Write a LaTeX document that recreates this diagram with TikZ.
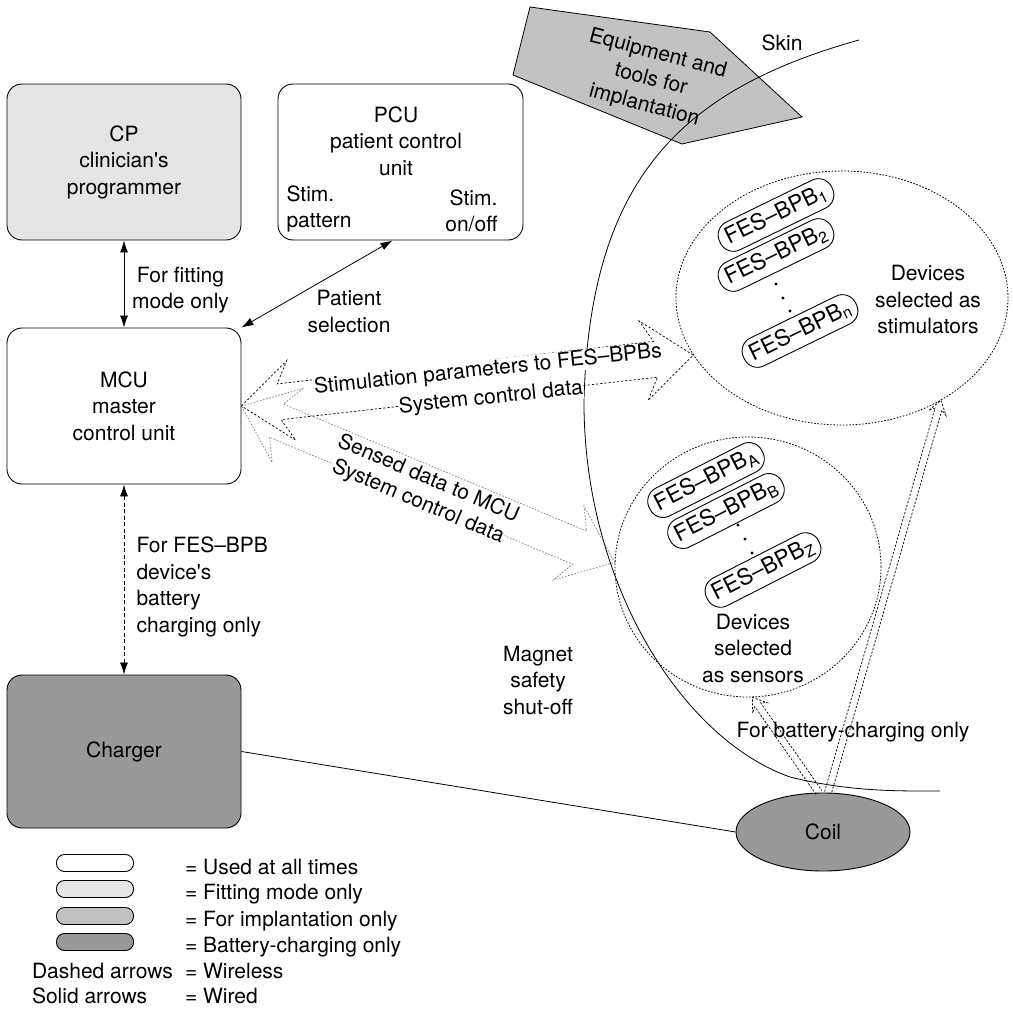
\documentclass[tikz,border=0pt]{standalone}
\usepackage{fontspec}
\setmainfont{TeX Gyre Heros}
\usetikzlibrary{arrows.meta,calc,shapes.geometric}
\definecolor{fitgray}{gray}{0.9}
\definecolor{impgray}{gray}{0.76}
\definecolor{chggray}{gray}{0.6}
\newcommand{\dblhollow}[7]{%
 \draw[#1] (#2) -- ($(#2)!#6!(#3)!#5!90:(#3)$) -- ($(#2)!#7!(#3)!#4!90:(#3)$)
 -- ($(#3)!#7!(#2)!#4!-90:(#2)$) -- ($(#3)!#6!(#2)!#5!-90:(#2)$) -- (#3)
 -- ($(#3)!#6!(#2)!#5!90:(#2)$) -- ($(#3)!#7!(#2)!#4!90:(#2)$)
 -- ($(#2)!#7!(#3)!#4!-90:(#3)$) -- ($(#2)!#6!(#3)!#5!-90:(#3)$) -- cycle;}
\newcommand{\onehollow}[7]{%
 \draw[#1] ($(#2)!#4!90:(#3)$) -- ($(#3)!#7!(#2)!#4!-90:(#2)$) -- ($(#3)!#6!(#2)!#5!-90:(#2)$) -- (#3)
 -- ($(#3)!#6!(#2)!#5!90:(#2)$) -- ($(#3)!#7!(#2)!#4!90:(#2)$) -- ($(#2)!#4!-90:(#3)$);}
\begin{document}
\begin{tikzpicture}[x=1pt,y=-1pt,
  font=\fontsize{21pt}{26.5pt}\selectfont,
  >={Latex[length=12pt,width=8pt]},
  box/.style={draw, line width=0.9pt, rounded corners=15pt, minimum width=234pt, minimum height=156pt, align=center, inner sep=0pt},
  pill/.style={draw, line width=0.9pt, rounded corners=14.5pt, minimum height=31pt, inner xsep=7pt, inner ysep=2pt, font=\fontsize{22.5pt}{27pt}\selectfont},
  legpill/.style={draw, line width=0.9pt, rounded corners=8pt, minimum width=77pt, minimum height=17pt, inner sep=0pt},
  devcircle/.style={draw, ellipse, line width=0.8pt, dash pattern=on 1.6pt off 1.6pt, inner sep=0pt},
  wirearrow/.style={<->, line width=0.8pt},
  wirelessarrow/.style={<->, line width=0.8pt, dash pattern=on 4pt off 2.5pt},
  stimarrow/.style={line width=0.7pt, dash pattern=on 2.2pt off 2pt},
  sensarrow/.style={line width=0.7pt, gray, dash pattern=on 1.6pt off 1.6pt},
  chgarrow/.style={line width=0.7pt, dash pattern=on 2.2pt off 1.6pt},
  wl/.style={fill=white, inner sep=0.3pt},
  dot/.style={circle, fill, inner sep=0pt, minimum size=3.4pt}]
\useasboundingbox (0,0) rectangle (1013,1009);

% equipment polygon and skin
\draw[fill=impgray, line width=0.8pt] (530,7) -- (710,32) -- (802,117) -- (682,144) -- (513,75) -- cycle;
\draw[line width=0.8pt] (859,40) .. controls (680,90) and (590,180) .. (584,400)
  .. controls (583,580) and (680,738) .. (790,777) .. controls (850,792) and (900,791) .. (940,791);
\node[rotate=-15, align=center] (equip) at (651,80) {Equipment and\\tools for\\implantation};
\node (skin) at (782,43) {Skin};

% boxes
\node[box, fill=fitgray] (cp) at (124,162) {CP\\clinician\textquotesingle s\\programmer};
\node[box, minimum width=245pt] (pcu) at (400.5,162) {};
\node[align=center] (pcut) at (396,141) {PCU\\patient control\\unit};
\node[align=left, anchor=west] (stpat) at (283,209) {Stim.\\pattern};
\node[align=right, anchor=east] (stonoff) at (501,211) {Stim.\\on/off};
\node[box] (mcu) at (124,406) {MCU\\master\\control unit};
\node[box, fill=chggray, minimum height=153pt] (chg) at (124,751.5) {Charger};
\node[ellipse, draw, fill=chggray, minimum width=174pt, minimum height=78pt, line width=0.9pt, inner sep=0pt] (coil) at (823,832) {Coil};

% device groups
\node[devcircle, minimum width=332pt, minimum height=254pt] (stimc) at (842,298) {};
\node[devcircle, minimum width=266pt, minimum height=260pt] (senc) at (748,567) {};
\node[pill, rotate=26] (b1) at (776,215) {FES–BPB\textsubscript{1}};
\node[pill, rotate=26] (b2) at (776,255) {FES–BPB\textsubscript{2}};
\node[pill, rotate=26] (bn) at (800,331) {FES–BPB\textsubscript{n}};
\node[dot] (d1) at (776,284) {};
\node[dot] (d2) at (783,298) {};
\node[dot] (d3) at (790,311) {};
\node[align=center] (stimtxt) at (928,300) {Devices\\selected as\\stimulators};
\node[pill, rotate=27] (ba) at (706,480) {FES–BPB\textsubscript{A}};
\node[pill, rotate=27] (bb) at (726,511) {FES–BPB\textsubscript{B}};
\node[pill, rotate=27] (bz) at (763,570) {FES–BPB\textsubscript{Z}};
\node[dot] (d4) at (738,525) {};
\node[dot] (d5) at (745,539) {};
\node[dot] (d6) at (752,553) {};
\node[align=center] (sentxt) at (753,648) {Devices\\selected\\as sensors};

% wired / wireless connectors
\draw[wirearrow] (cp.south) -- (mcu.north);
\node[align=center] (fitlbl) at (180.5,290) {For fitting\\mode only};
\coordinate (pcuout) at ($(pcu.south)+(-8,0)$);
\draw[wirearrow] (pcuout) -- (mcu.north east);
\node[align=center] (patlbl) at (349,311.5) {Patient\\selection};
\draw[wirelessarrow] (mcu.south) -- (chg.north);
\node[align=left, anchor=west] (chglbl) at (133,587) {For FES–BPB\\device\textquotesingle s\\battery\\charging only};
\draw[line width=0.8pt] (chg.east) -- (coil.west);

% wide wireless arrows
\dblhollow{sensarrow}{mcu.east}{senc.178}{18pt}{40pt}{50pt}{38pt}
\dblhollow{stimarrow}{mcu.east}{stimc.201}{18pt}{40pt}{50pt}{38pt}
\node[wl, rotate=6] (st1) at (488,370) {Stimulation parameters to FES–BPBs};
\node[wl, rotate=6] (st2) at (491,398) {System control data};
\node[wl, rotate=-23] (se1) at (429,477) {Sensed data to MCU};
\node[wl, rotate=-23] (se2) at (418,502) {System control data};

% charging arrows from coil
\coordinate (cA) at ($(coil.north)+(-4,0)$);
\coordinate (cB) at ($(coil.north)+(5,0)$);
\onehollow{chgarrow}{cA}{senc.272}{3.5pt}{9pt}{13pt}{9pt}
\onehollow{chgarrow}{cB}{stimc.314}{3.5pt}{9pt}{13pt}{9pt}
\node (batlbl) at (853,732) {For battery-charging only};
\node[align=center] (magnet) at (538,680) {Magnet\\safety\\shut-off};

% legend
\node[legpill] (l1) at (95,863) {};
\node[legpill, fill=fitgray] (l2) at (95,889) {};
\node[legpill, fill=impgray] (l3) at (95,916) {};
\node[legpill, fill=chggray] (l4) at (95,942) {};
\node[anchor=base west] (t1) at (181.5,874) {= Used at all times};
\node[anchor=base west] (t2) at (181.5,899) {= Fitting mode only};
\node[anchor=base west] (t3) at (181.5,926) {= For implantation only};
\node[anchor=base west] (t4) at (181.5,952) {= Battery-charging only};
\node[anchor=base west] (t5a) at (28.5,978) {Dashed arrows};
\node[anchor=base west] (t5) at (181.5,978) {= Wireless};
\node[anchor=base west] (t6a) at (28.5,1003) {Solid arrows};
\node[anchor=base west] (t6) at (181.5,1003) {= Wired};
\end{tikzpicture}
\end{document}
